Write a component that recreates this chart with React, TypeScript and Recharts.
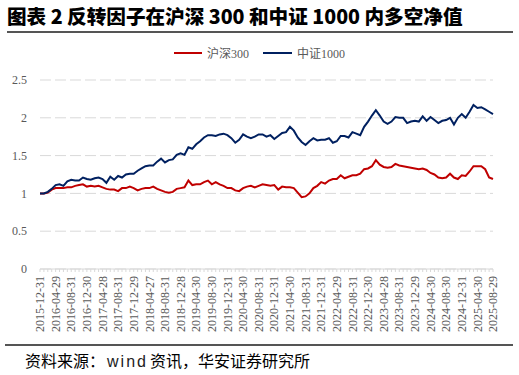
import React from 'react';
import { LineChart, Line, XAxis, YAxis, CartesianGrid, Legend } from 'recharts';

const tickLabels = [
  '2015-12-31', '2016-04-29', '2016-08-31', '2016-12-30', '2017-04-28', '2017-08-31',
  '2017-12-29', '2018-04-27', '2018-08-31', '2018-12-28', '2019-04-30', '2019-08-30',
  '2019-12-31', '2020-04-30', '2020-08-31', '2020-12-31', '2021-04-30', '2021-08-31',
  '2021-12-31', '2022-04-29', '2022-08-31', '2022-12-30', '2023-04-28', '2023-08-31',
  '2023-12-29', '2024-04-30', '2024-08-30', '2024-12-31', '2025-04-30', '2025-08-29',
];

const hs300 = [
  1.00, 1.00, 1.01, 1.05, 1.07, 1.07, 1.07, 1.08, 1.08, 1.10,
  1.11, 1.12, 1.09, 1.10, 1.09, 1.10, 1.08, 1.06, 1.05, 1.05,
  1.03, 1.07, 1.07, 1.09, 1.07, 1.04, 1.06, 1.07, 1.07, 1.09,
  1.06, 1.04, 1.02, 1.01, 1.02, 1.06, 1.07, 1.08, 1.17, 1.11,
  1.12, 1.12, 1.15, 1.17, 1.12, 1.15, 1.12, 1.10, 1.07, 1.07,
  1.04, 1.03, 1.07, 1.09, 1.10, 1.08, 1.10, 1.12, 1.11, 1.10,
  1.11, 1.05, 1.09, 1.08, 1.08, 1.07, 1.01, 0.95, 0.96, 1.00,
  1.07, 1.10, 1.15, 1.13, 1.17, 1.19, 1.19, 1.24, 1.20, 1.22,
  1.24, 1.24, 1.26, 1.32, 1.33, 1.36, 1.44, 1.38, 1.35, 1.34,
  1.35, 1.39, 1.37, 1.36, 1.35, 1.34, 1.33, 1.32, 1.33, 1.31,
  1.27, 1.25, 1.21, 1.20, 1.21, 1.26, 1.21, 1.19, 1.24, 1.23,
  1.29, 1.36, 1.36, 1.36, 1.32, 1.21, 1.19,
];

const csi1000 = [
  1.00, 1.00, 1.02, 1.06, 1.11, 1.12, 1.10, 1.16, 1.18, 1.17,
  1.17, 1.21, 1.19, 1.18, 1.20, 1.21, 1.19, 1.14, 1.22, 1.18,
  1.23, 1.21, 1.25, 1.26, 1.26, 1.30, 1.33, 1.36, 1.37, 1.37,
  1.42, 1.46, 1.41, 1.44, 1.45, 1.51, 1.53, 1.51, 1.61, 1.59,
  1.65, 1.69, 1.74, 1.77, 1.77, 1.76, 1.78, 1.79, 1.77, 1.73,
  1.67, 1.71, 1.78, 1.75, 1.73, 1.75, 1.78, 1.78, 1.75, 1.77,
  1.72, 1.76, 1.80, 1.81, 1.88, 1.83, 1.74, 1.68, 1.64, 1.69,
  1.73, 1.70, 1.71, 1.71, 1.73, 1.67, 1.69, 1.76, 1.76, 1.74,
  1.81, 1.79, 1.77, 1.88, 1.95, 2.03, 2.10, 2.03, 1.95, 1.92,
  1.95, 2.01, 2.00, 2.00, 1.93, 1.95, 1.96, 1.95, 2.02, 1.96,
  2.01, 1.97, 1.93, 1.96, 1.97, 2.00, 1.91, 2.00, 2.05, 2.00,
  2.08, 2.17, 2.13, 2.14, 2.11, 2.08, 2.05,
];

const yTicks = [0, 0.5, 1, 1.5, 2, 2.5];

const data = hs300.map((v, i) => ({ idx: i, hs300: v, csi1000: csi1000[i] }));

const serif = '"Liberation Serif", "Times New Roman", "Noto Sans CJK SC", serif';
const cjk = '"Noto Sans CJK SC", "Liberation Sans", sans-serif';

const XTick = (props: any) => {
  const { x, y, payload } = props;
  const i = payload.value as number;
  if (i % 4 !== 0) return null;
  const label = tickLabels[i / 4];
  return (
    <text
      x={x}
      y={y}
      dy="0.35em"
      transform={`rotate(-90, ${x}, ${y})`}
      textAnchor="end"
      fontFamily={serif}
      fontSize={12}
      fill="#595959"
    >
      {label}
    </text>
  );
};

const LegendContent = () => (
  <div style={{ display: 'flex', justifyContent: 'flex-start', alignItems: 'center', fontFamily: cjk, fontSize: 12, color: '#595959' }}>
    <div style={{ position: 'absolute', left: 174, top: 0, display: 'flex', alignItems: 'center' }}>
      <span style={{ display: 'inline-block', width: 28, height: 2, background: '#C00000', marginRight: 5 }} />
      <span>沪深<span style={{ fontFamily: serif }}>300</span></span>
    </div>
    <div style={{ position: 'absolute', left: 263, top: 0, display: 'flex', alignItems: 'center' }}>
      <span style={{ display: 'inline-block', width: 29, height: 2, background: '#002060', marginRight: 5 }} />
      <span>中证<span style={{ fontFamily: serif }}>1000</span></span>
    </div>
  </div>
);

export default function App() {
  return (
    <div style={{ position: 'absolute', left: 0, top: 0, width: 519, height: 375, background: '#fff', overflow: 'hidden' }}>
      <div
        style={{
          position: 'absolute', left: 7, top: 5, lineHeight: '22px', fontSize: 19.6, fontWeight: 900,
          fontFamily: cjk, color: '#000', whiteSpace: 'nowrap',
        }}
      >
        图表 2 反转因子在沪深 300 和中证 1000 内多空净值
      </div>
      <div style={{ position: 'absolute', left: 7, top: 31, width: 506, height: 1.5, background: '#555' }} />
      <div style={{ position: 'absolute', left: 0, top: 0 }}>
        <LineChart width={519} height={345} data={data} margin={{ top: 80, right: 26, left: 0, bottom: 0 }}>
          <CartesianGrid vertical={false} stroke="#d9d9d9" strokeDasharray="11 4" />
          <XAxis
            dataKey="idx"
            type="category"
            interval={0}
            height={76}
            tickSize={3}
            tickMargin={4}
            tick={<XTick />}
            axisLine={{ stroke: '#d9d9d9' }}
            tickLine={{ stroke: '#d9d9d9' }}
          />
          <YAxis
            domain={[0, 2.5]}
            ticks={yTicks}
            width={40}
            axisLine={false}
            tickLine={false}
            tickSize={0}
            tickMargin={13}
            tick={{ fontFamily: serif, fontSize: 12, fill: '#595959' }}
          />
          <Legend
            verticalAlign="middle"
            layout="horizontal"
            align="center"
            wrapperStyle={{ top: 44, left: 0, width: 519, height: 16 }}
            content={<LegendContent />}
          />
          <Line type="linear" dataKey="hs300" stroke="#C00000" strokeWidth={2} dot={false} isAnimationActive={false} />
          <Line type="linear" dataKey="csi1000" stroke="#002060" strokeWidth={2} dot={false} isAnimationActive={false} />
        </LineChart>
      </div>
      <div style={{ position: 'absolute', left: 5, top: 344, width: 508, height: 1.5, background: '#555' }} />
      <div
        style={{
          position: 'absolute', left: 25, top: 349, lineHeight: '22px', fontSize: 16,
          fontFamily: cjk, color: '#000', whiteSpace: 'nowrap',
        }}
      >
        资料来源：
        <span style={{ fontFamily: '"Liberation Sans", sans-serif', letterSpacing: 2, marginLeft: 2, marginRight: 2, color: '#222' }}>wind</span>
        资讯，华安证券研究所
      </div>
    </div>
  );
}
